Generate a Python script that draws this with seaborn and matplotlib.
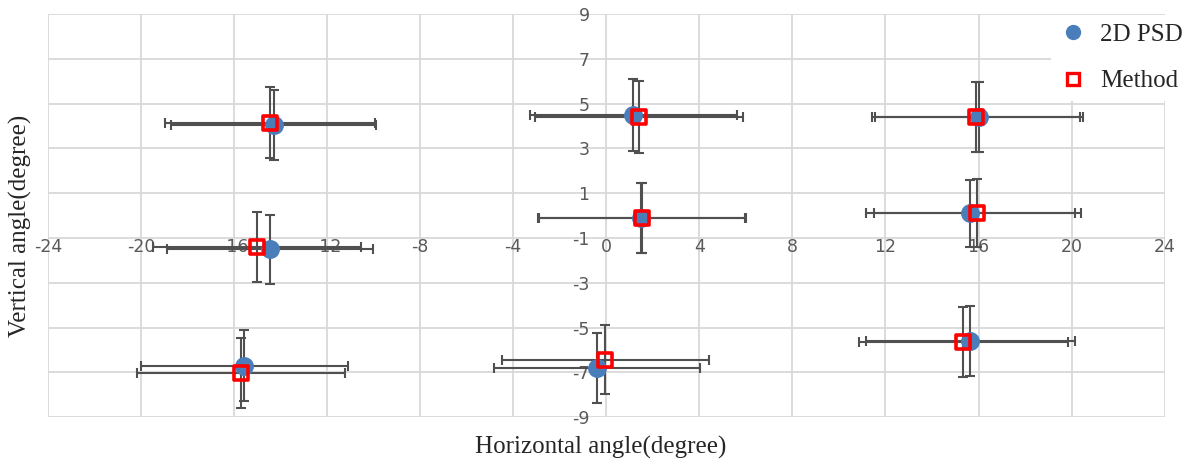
import matplotlib
matplotlib.use("Agg")
import numpy as np
import pandas as pd
import matplotlib.pyplot as plt
import seaborn as sns
from matplotlib.lines import Line2D

# 2D PSD estimates (blue circles)
psd_x = [-14.3, -14.45, -15.55, 1.15, 1.5, -0.4, 16.0, 15.65, 15.65]
psd_y = [4.05, -1.5, -6.7, 4.5, -0.1, -6.8, 4.4, 0.1, -5.6]
psd_xerr = [4.4, 4.43, 4.43, 4.45, 4.45, 4.43, 4.47, 4.5, 4.5]
psd_yerr = [1.55, 1.54, 1.58, 1.6, 1.56, 1.56, 1.56, 1.5, 1.56]

# proposed method estimates (red squares)
method_x = [-14.45, -15.0, -15.7, 1.4, 1.55, -0.05, 15.9, 15.95, 15.35]
method_y = [4.15, -1.4, -7.05, 4.4, -0.1, -6.45, 4.4, 0.1, -5.65]
method_xerr = [4.5, 4.47, 4.47, 4.47, 4.45, 4.45, 4.47, 4.45, 4.5]
method_yerr = [1.57, 1.57, 1.56, 1.6, 1.56, 1.54, 1.56, 1.52, 1.56]

x_ticks = list(range(-24, 25, 4))
y_ticks = list(range(-9, 10, 2))

psd = pd.DataFrame({"x": psd_x, "y": psd_y, "xerr": psd_xerr, "yerr": psd_yerr})
method = pd.DataFrame({"x": method_x, "y": method_y, "xerr": method_xerr, "yerr": method_yerr})

sns.set_style("white")
serif = ["Liberation Serif", "DejaVu Serif"]

fig = plt.figure(figsize=(11.97, 4.65), dpi=100)
ax = fig.add_axes([0.040, 0.103, 0.933, 0.867])

err_color = "#505050"
for df in (psd, method):
    ax.errorbar(df["x"], df["y"], xerr=df["xerr"], yerr=df["yerr"], fmt="none",
                ecolor=err_color, elinewidth=1.5, capsize=3.5, capthick=1.5, zorder=2)

sns.scatterplot(data=psd, x="x", y="y", ax=ax, marker="o", s=185,
                color="#4a7ebb", edgecolor="#4a7ebb", linewidth=0, zorder=3)
sns.scatterplot(data=method, x="x", y="y", ax=ax, marker="s", s=100,
                facecolor="none", edgecolor="#ff0000", linewidth=2.6, zorder=4)

ax.set_xlim(-24, 24)
ax.set_ylim(-9, 9)
ax.set_xticks(x_ticks)
ax.set_yticks(y_ticks)
ax.set_xticklabels([str(v) for v in x_ticks])
ax.set_yticklabels([str(v) for v in y_ticks])
ax.grid(True, color="#d9d9d9", linewidth=1.3)
ax.set_axisbelow(True)

for s in ["top", "right"]:
    ax.spines[s].set_visible(False)
ax.spines["left"].set_position(("data", 0))
ax.spines["bottom"].set_position(("data", -1))
ax.spines["left"].set_color("none")
ax.spines["bottom"].set_color("none")
ax.tick_params(axis="both", length=0, labelsize=12.5, labelcolor="#595959")
ax.tick_params(axis="x", pad=0)
ax.tick_params(axis="y", pad=12)
ax.set_xlabel("")
ax.set_ylabel("")

fig.text(0.502, 0.038, "Horizontal angle(degree)", ha="center", va="center",
         fontsize=18, family=serif)
fig.text(0.017, 0.515, "Vertical angle(degree)", ha="center", va="center",
         rotation=90, fontsize=18, family=serif)

handles = [
    Line2D([], [], marker="o", linestyle="none", markersize=10,
           markerfacecolor="#4a7ebb", markeredgecolor="#4a7ebb"),
    Line2D([], [], marker="s", linestyle="none", markersize=8.5,
           markerfacecolor="white", markeredgecolor="#ff0000", markeredgewidth=2.4),
]
leg = fig.legend(handles, ["2D PSD", "Method"], loc="upper right",
                 bbox_to_anchor=(1.006, 0.995), frameon=True, facecolor="white",
                 edgecolor="none", framealpha=1, fancybox=False,
                 prop={"family": serif, "size": 18}, labelspacing=0.95,
                 handletextpad=0.6, handlelength=1.0, borderpad=0.35)

fig.savefig("out.png", dpi=100)
